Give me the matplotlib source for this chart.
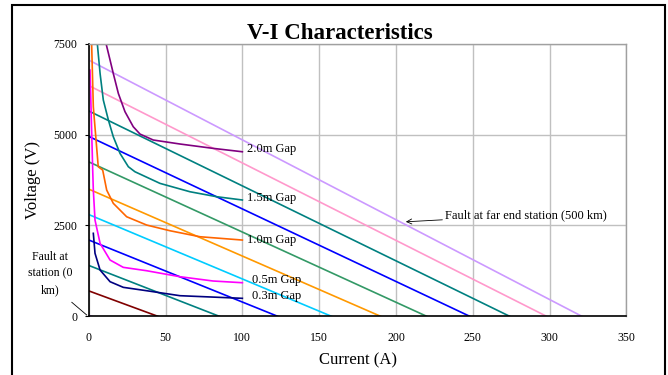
import numpy as np
import matplotlib
matplotlib.use("Agg")
import matplotlib.pyplot as plt
from matplotlib.patches import Rectangle

plt.rcParams['font.family'] = ['Liberation Serif', 'DejaVu Serif']

# fault load lines: voltage intercept (V) and current intercept (A)
load_v0 = [700, 1400, 2100, 2800, 3500, 4250, 4950, 5650, 6350, 7050]
load_i0 = [45, 85, 123, 158, 190, 220, 248, 274, 298, 321]
load_colors = ['#800000', '#008080', '#0000FF', '#00CCFF', '#FF9900',
               '#339966', '#0000FF', '#008080', '#FF99CC', '#CC99FF']

# arc characteristics for each gap
gap_names = ['2.0m Gap', '1.5m Gap', '1.0m Gap', '0.5m Gap', '0.3m Gap']
gap_colors = ['#800080', '#008080', '#FF6600', '#FF00FF', '#000080']
arc_i = [
    [11.3, 13.9, 16.0, 19.3, 23.6, 29.0, 33.4, 42.0, 59.4, 81.0, 100],
    [5.6, 7.4, 9.5, 12.8, 16.0, 20.4, 25.8, 30.1, 46.4, 65.9, 83.3, 100],
    [1.9, 3.0, 6.2, 9.1, 11.7, 16.0, 24.7, 37.7, 52.9, 72.4, 100],
    [0.85, 2.6, 3.0, 4.1, 7.4, 13.9, 22.5, 37.7, 59.4, 81.0, 100],
    [3.0, 4.1, 7.4, 13.9, 22.5, 37.7, 59.4, 100],
]
arc_v = [
    [7500, 7049, 6680, 6130, 5630, 5215, 5013, 4850, 4740, 4620, 4527],
    [7500, 6680, 5950, 5400, 4940, 4480, 4115, 3977, 3657, 3427, 3290, 3200],
    [7500, 5765, 4115, 4023, 3473, 3108, 2739, 2511, 2354, 2189, 2098],
    [6773, 4023, 3473, 2648, 2007, 1548, 1347, 1254, 1089, 971, 924],
    [2283, 1733, 1273, 952, 797, 704, 567, 495],
]
label_pos = [(103, 4600), (103, 3250), (103, 2100), (106, 1000), (106, 550)]

fig = plt.figure(figsize=(6.68, 3.75), dpi=100)
ax = fig.add_axes([0.1328, 0.1565, 0.805, 0.727])

# fault at station (0 km) - basically a point at the origin
ax.plot([0, 2], [30, 0], color='#CC99FF', lw=1.2)

for v0, i0, c in zip(load_v0, load_i0, load_colors):
    ax.plot([0, i0], [v0, 0], color=c, lw=1.2)

for xs, ys, c in zip(arc_i, arc_v, gap_colors):
    ax.plot(xs, ys, color=c, lw=1.2)

for name, (lx, ly) in zip(gap_names, label_pos):
    ax.text(lx, ly, name, fontsize=9, va='center', ha='left')

ax.annotate('Fault at far end station (500 km)', xy=(206.4, 2600), xytext=(232, 2780),
            fontsize=9, va='center', ha='left',
            arrowprops=dict(arrowstyle='->', color='black', lw=0.6, shrinkA=0, shrinkB=0))
ax.text(-25, 1170, 'Fault at\nstation (0\nkm)', fontsize=8.5, va='center', ha='center',
        linespacing=1.5)
ax.plot([-11, -1.3], [385, 36], color='black', lw=0.6, clip_on=False)

ax.set_xlim(0, 350)
ax.set_ylim(0, 7500)
ax.set_xticks(np.arange(0, 351, 50))
ax.set_yticks([0, 2500, 5000, 7500])
ax.grid(True, color='#C0C0C0', lw=1.0)
ax.set_axisbelow(True)
ax.tick_params(labelsize=8.5, length=3, width=0.8, pad=5)
ax.tick_params(axis='x', length=0, pad=11)
for s in ['top', 'right']:
    ax.spines[s].set_color('#A0A0A0')
    ax.spines[s].set_linewidth(1.0)
for s in ['left', 'bottom']:
    ax.spines[s].set_color('black')
    ax.spines[s].set_linewidth(1.2)

ax.set_xlabel('Current (A)', fontsize=12, labelpad=6)
ax.set_ylabel('Voltage (V)', fontsize=12, labelpad=9)
fig.text(0.508, 0.91, 'V-I Characteristics', fontsize=16.5, fontweight='bold',
         ha='center', va='center')

fig.patches.append(Rectangle((0.0175, -0.01), 0.978, 0.997, transform=fig.transFigure,
                             fill=False, edgecolor='black', lw=1.5))

fig.savefig('out.png', dpi=100)
